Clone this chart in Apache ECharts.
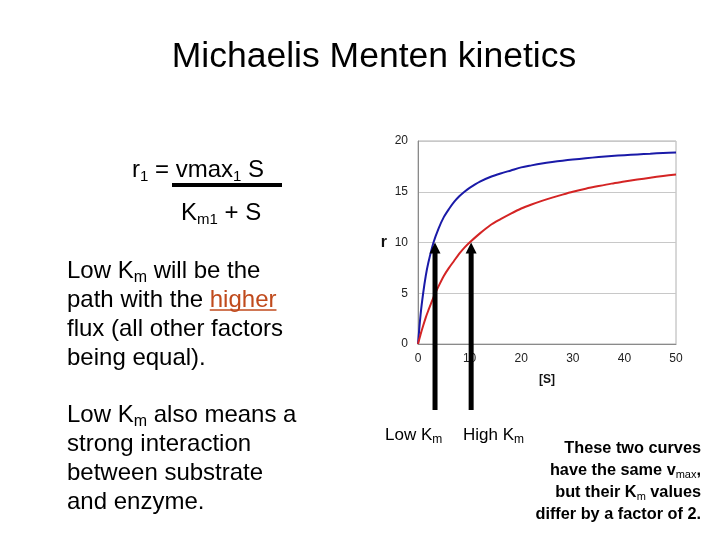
<!DOCTYPE html>
<html><head><meta charset="utf-8">
<script src="https://cdn.jsdelivr.net/npm/echarts@6/dist/echarts.min.js"></script>
<style>html,body{margin:0;padding:0;background:#fff}#c{width:720px;height:540px}</style>
</head><body><div id="c"></div>
<script>
// ---- data ----
const sValues = [0, 0.5, 1, 1.5, 2, 3, 4, 5, 6, 7, 8, 9, 10, 12, 14, 16, 18, 20, 22, 24, 26, 28, 30, 32.5, 35, 37.5, 40, 42.5, 45, 47.5, 50];
const rLowKm  = [0, 2.9, 5.0, 6.7, 8.0, 10.0, 11.4, 12.5, 13.3, 14.0, 14.55, 15.0, 15.38, 16.0, 16.45, 16.8, 17.1, 17.4, 17.6, 17.78, 17.93, 18.06, 18.17, 18.3, 18.42, 18.52, 18.6, 18.68, 18.75, 18.82, 18.87];
const rHighKm = [0, 0.95, 1.8, 2.6, 3.3, 4.6, 5.7, 6.7, 7.5, 8.2, 8.9, 9.5, 10.0, 10.9, 11.7, 12.3, 12.85, 13.35, 13.75, 14.1, 14.42, 14.72, 15.0, 15.3, 15.56, 15.8, 16.0, 16.2, 16.38, 16.55, 16.7];
const arrowS = [3.3, 10.3];   // Km positions marked by arrows
const arrowR = 10;            // half of vmax
const xTicks = {min: 0, max: 50, interval: 10};
const yTicks = {min: 0, max: 20, interval: 5};

const FONT = '"Liberation Sans", Arial, sans-serif';
const chart = echarts.init(document.getElementById('c'), null, {renderer: 'canvas'});

const pair = (xs, ys) => xs.map((x, i) => [x, ys[i]]);

chart.setOption({
  animation: false,
  backgroundColor: '#fff',
  grid: {left: 418, top: 141, right: 44, bottom: 196, show: true, borderColor: '#b0b0b0', borderWidth: 1},
  xAxis: {
    type: 'value', min: xTicks.min, max: xTicks.max, interval: xTicks.interval,
    axisLine: {show: true, lineStyle: {color: '#8a8a8a', width: 1}},
    axisTick: {show: false}, splitLine: {show: false},
    axisLabel: {color: '#222', fontSize: 12, fontFamily: FONT, margin: 9},
    name: '[S]', nameLocation: 'middle', nameGap: 30,
    nameTextStyle: {color: '#111', fontSize: 12, fontWeight: 'bold', fontFamily: FONT}
  },
  yAxis: {
    type: 'value', min: yTicks.min, max: yTicks.max, interval: yTicks.interval,
    axisLine: {show: true, lineStyle: {color: '#8a8a8a', width: 1}},
    axisTick: {show: false},
    splitLine: {show: true, lineStyle: {color: '#c8c8c8', width: 1}},
    axisLabel: {color: '#222', fontSize: 12, fontFamily: FONT, margin: 10},
    name: 'r', nameLocation: 'middle', nameRotate: 0, nameGap: 31,
    nameTextStyle: {color: '#111', fontSize: 16, fontWeight: 'bold', fontFamily: FONT}
  },
  series: [
    {type: 'line', name: 'Low Km', data: pair(sValues, rLowKm), smooth: 0.3, showSymbol: false,
     lineStyle: {color: '#1a1aa8', width: 2}, itemStyle: {color: '#1a1aa8'}, z: 3},
    {type: 'line', name: 'High Km', data: pair(sValues, rHighKm), smooth: 0.3, showSymbol: false,
     lineStyle: {color: '#d42424', width: 2}, itemStyle: {color: '#d42424'}, z: 3}
  ]
});

// ---- annotations ----
const n = (sz, extra) => Object.assign({fontSize: sz, fontFamily: FONT, fill: '#000', color: '#000'}, extra || {});
const measure = (txt, font) => { const c = document.createElement('canvas').getContext('2d'); c.font = font; return c.measureText(txt).width; };

const bodyRich = {
  n: n(24, {lineHeight: 29}),
  s: n(16, {lineHeight: 29, padding: [14, 0, 0, 0]}),
  h: n(24, {lineHeight: 29, fill: '#c04a1c', color: '#c04a1c'})
};

const hx = 67 + measure('path with the ', '24px "Liberation Sans"');
const hw = measure('higher', '24px "Liberation Sans"');

const graphics = [
  {type: 'text', x: 374, y: 57, style: {text: 'Michaelis Menten kinetics', font: '35.5px "Liberation Sans"', fill: '#000', align: 'center', verticalAlign: 'middle'}},
  {type: 'text', x: 132, y: 170, style: {text: '{n|r}{s|1}{n| = vmax}{s|1}{n| S}', rich: {n: n(24, {lineHeight: 29}), s: n(15, {lineHeight: 29, padding: [14, 0, 0, 0]})}, align: 'left', verticalAlign: 'middle'}},
  {type: 'line', shape: {x1: 172, y1: 185, x2: 282, y2: 185}, style: {stroke: '#000', lineWidth: 4}},
  {type: 'text', x: 181, y: 213, style: {text: '{n|K}{s|m1}{n| + S}', rich: {n: n(24, {lineHeight: 29}), s: n(15, {lineHeight: 29, padding: [14, 0, 0, 0]})}, align: 'left', verticalAlign: 'middle'}},
  {type: 'text', x: 67, y: 256.5, style: {text: '{n|Low K}{s|m}{n| will be the}\n{n|path with the }{h|higher}\n{n|flux (all other factors}\n{n|being equal).}', rich: bodyRich, align: 'left', verticalAlign: 'top'}},
  {type: 'line', shape: {x1: hx, y1: 310, x2: hx + hw, y2: 310}, style: {stroke: '#c04a1c', lineWidth: 1.5}},
  {type: 'text', x: 67, y: 400.5, style: {text: '{n|Low K}{s|m}{n| also means a}\n{n|strong interaction}\n{n|between substrate}\n{n|and enzyme.}', rich: bodyRich, align: 'left', verticalAlign: 'top'}},
  {type: 'text', x: 385, y: 435, style: {text: '{n|Low K}{s|m}', rich: {n: n(17, {lineHeight: 22}), s: n(12, {lineHeight: 22, padding: [10, 0, 0, 0]})}, align: 'left', verticalAlign: 'middle'}},
  {type: 'text', x: 463, y: 435, style: {text: '{n|High K}{s|m}', rich: {n: n(17, {lineHeight: 22}), s: n(12, {lineHeight: 22, padding: [10, 0, 0, 0]})}, align: 'left', verticalAlign: 'middle'}},
  {type: 'text', x: 701, y: 437.5, style: {
    text: '{b|These two curves}\n{b|have the same v}{s|max}{b|,}\n{b|but their K}{s|m}{b| values}\n{b|differ by a factor of 2.}',
    rich: {b: n(16.3, {lineHeight: 22, fontWeight: 'bold'}), s: n(11, {lineHeight: 22, padding: [9, 0, 0, 0]})},
    align: 'right', verticalAlign: 'top'}}
];

arrowS.forEach(s => {
  const tip = chart.convertToPixel({gridIndex: 0}, [s, arrowR]);
  const bottom = 410;
  graphics.push({type: 'line', shape: {x1: tip[0], y1: tip[1] + 9, x2: tip[0], y2: bottom}, style: {stroke: '#000', lineWidth: 5}, z: 10});
  graphics.push({type: 'polygon', shape: {points: [[tip[0], tip[1]], [tip[0] - 5.5, tip[1] + 11], [tip[0] + 5.5, tip[1] + 11]]}, style: {fill: '#000'}, z: 10});
});

chart.setOption({graphic: graphics});
</script>
</body></html>
